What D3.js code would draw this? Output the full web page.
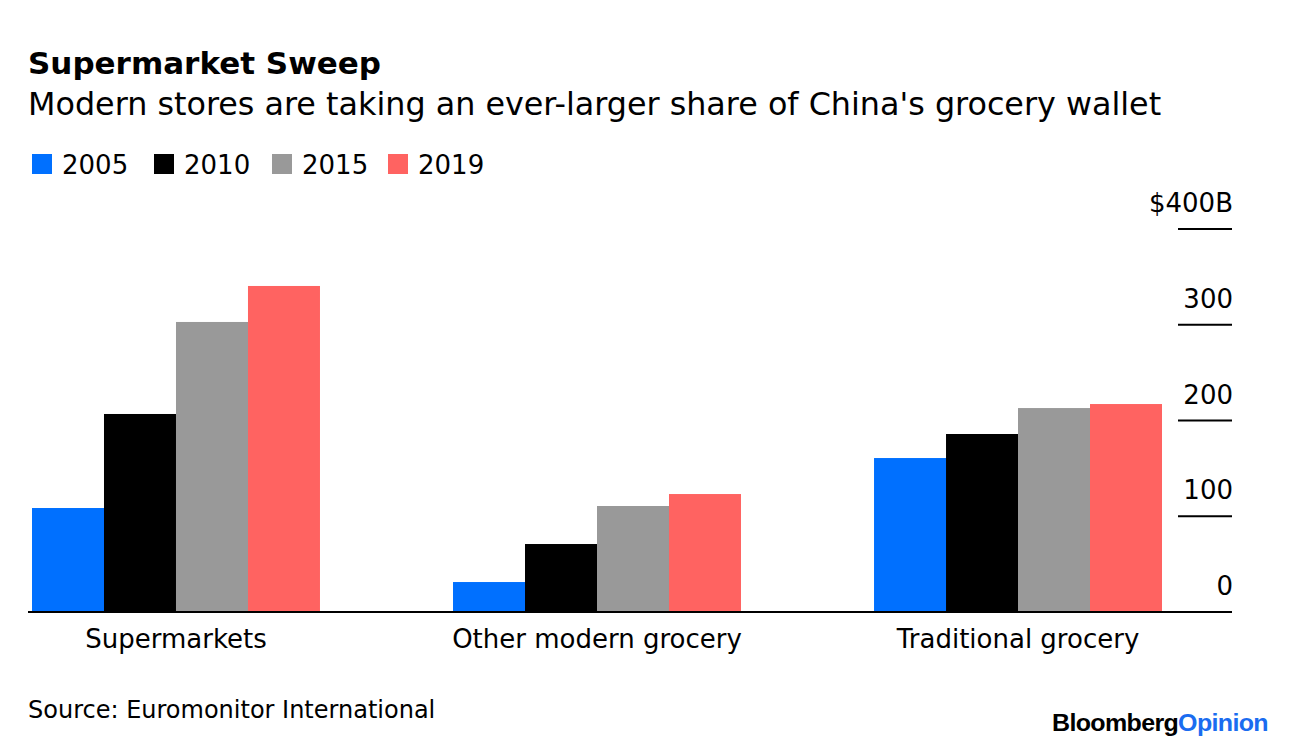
<!DOCTYPE html>
<html><head><meta charset="utf-8">
<script src="https://cdn.jsdelivr.net/npm/d3@7"></script>
<style>body{margin:0;background:#fff;} svg{display:block;font-family:"DejaVu Sans",Arial,Helvetica,sans-serif;}</style>
</head><body>
<svg id="chart" width="1296" height="748"></svg>
<script>
const categories = ["Supermarkets", "Other modern grocery", "Traditional grocery"];
const years = ["2005", "2010", "2015", "2019"];
const values2005 = [108.6, 31.3, 160.8];
const values2010 = [206.8, 71, 185.9];
const values2015 = [302.9, 110.7, 213];
const values2019 = [340.5, 123.2, 217.2];
const colors = ["#0070ff", "#000000", "#999999", "#ff6361"];
const tickValues = [0, 100, 200, 300, 400];
const tickLabels = ["0", "100", "200", "300", "$400B"];

const seriesValues = [values2005, values2010, values2015, values2019];
const svg = d3.select("#chart");

// Titles
svg.append("text").attr("x", 28).attr("y", 74).attr("font-size", 31).attr("font-weight", "bold").attr("fill", "#000").text("Supermarket Sweep");
svg.append("text").attr("x", 28).attr("y", 115).attr("font-size", 31.8).attr("fill", "#000").text("Modern stores are taking an ever-larger share of China's grocery wallet");

// Legend
const legendX = [32, 154, 272, 388];
const lg = svg.append("g");
years.forEach((y, i) => {
  lg.append("rect").attr("x", legendX[i]).attr("y", 154).attr("width", 20).attr("height", 20).attr("fill", colors[i]);
  lg.append("text").attr("x", legendX[i] + 30).attr("y", 174).attr("font-size", 26).attr("fill", "#000").text(y);
});

// Scales
const x0 = d3.scaleBand().domain(categories).range([32, 1162]).paddingInner(0.316).paddingOuter(0);
const x1 = d3.scaleBand().domain(years).range([0, x0.bandwidth()]).padding(0);
const yScale = d3.scaleLinear().domain([0, 400]).range([612, 229]);

// Bars
const groups = svg.append("g").selectAll("g").data(categories).join("g")
  .attr("transform", d => `translate(${x0(d)},0)`);
groups.selectAll("rect").data((c, ci) => years.map((yr, yi) => ({yr, yi, v: seriesValues[yi][ci]})))
  .join("rect")
  .attr("x", d => x1(d.yr))
  .attr("width", x1.bandwidth())
  .attr("y", d => yScale(d.v))
  .attr("height", d => yScale(0) - yScale(d.v))
  .attr("fill", d => colors[d.yi]);

// Right axis ticks
const axisG = svg.append("g");
tickValues.forEach((t, i) => {
  if (t !== 0) {
    axisG.append("line").attr("x1", 1178).attr("x2", 1232).attr("y1", yScale(t)).attr("y2", yScale(t)).attr("stroke", "#000").attr("stroke-width", 2);
  }
  axisG.append("text").attr("x", 1233).attr("y", yScale(t) - 17).attr("text-anchor", "end").attr("font-size", 26).attr("fill", "#000").text(tickLabels[i]);
});
// Baseline
svg.append("line").attr("x1", 28).attr("x2", 1232).attr("y1", yScale(0)).attr("y2", yScale(0)).attr("stroke", "#000").attr("stroke-width", 2);

// Category labels
svg.append("g").selectAll("text").data(categories).join("text")
  .attr("x", d => x0(d) + x0.bandwidth() / 2)
  .attr("y", 648).attr("text-anchor", "middle").attr("font-size", 26).attr("fill", "#000").text(d => d);

// Source
svg.append("text").attr("x", 28).attr("y", 718).attr("font-size", 24).attr("fill", "#000").text("Source: Euromonitor International");

// Branding
const br = svg.append("text").attr("x", 1052).attr("y", 731).attr("font-family", "'Liberation Sans', Arial, sans-serif").attr("font-size", 23).attr("font-weight", "bold").attr("letter-spacing", -0.6)
  .attr("textLength", 216).attr("lengthAdjust", "spacingAndGlyphs");
br.append("tspan").attr("fill", "#000").text("Bloomberg");
br.append("tspan").attr("fill", "#1a6cf0").text("Opinion");
</script>
</body></html>
